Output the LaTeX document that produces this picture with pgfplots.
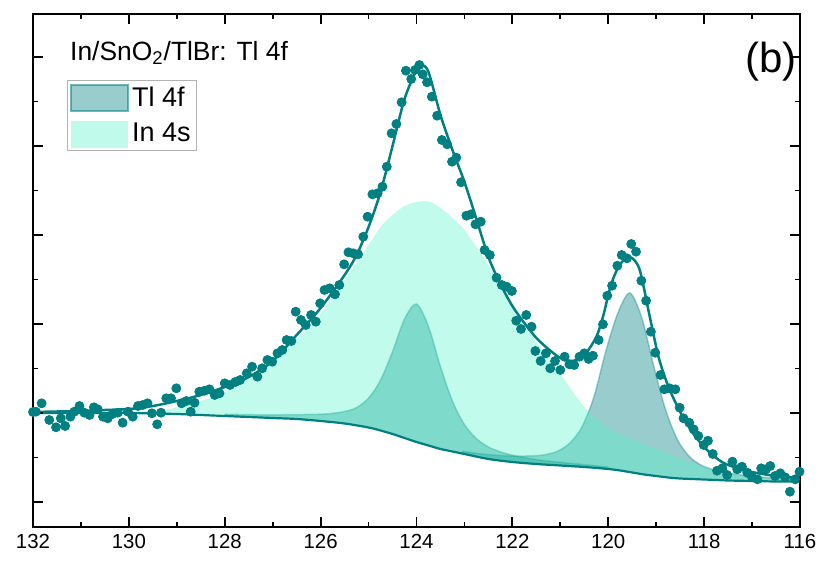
\documentclass[border=0pt]{standalone}
\usepackage{fontspec}
\setmainfont{Liberation Sans}
\usepackage{pgfplots}
\pgfplotsset{compat=1.18}
\definecolor{teal0}{RGB}{0,128,128}
\definecolor{mint}{RGB}{75,243,197}
\begin{document}
\begin{tikzpicture}
\begin{axis}[
  at={(0pt,0pt)}, anchor=south west,
  scale only axis, width=383.5pt, height=256.5pt,
  x dir=reverse, xmin=116, xmax=132, ymin=0, ymax=513,
  xtick={116,118,...,132}, minor xtick={117,119,...,131},
  ytick={25,114,203,292,381,470}, minor ytick={69.5,158.5,247.5,336.5,425.5},
  yticklabels={},
  tick align=inside,
  major tick length=5pt, minor tick length=2.5pt,
  every tick/.style={black, line width=0.9pt},
  axis line style={line width=1pt},
  axis on top,
  /pgf/number format/assume math mode=true,
  tick label style={font=\fontsize{10.2}{12}\selectfont},
  legend style={at={(0.0439,0.871)}, anchor=north west, draw=gray!60, line width=0.5pt,
    inner xsep=1.5pt, inner ysep=1.5pt, row sep=4pt,
    nodes={inner sep=1.5pt}, font=\fontsize{13.5}{15}\selectfont},
  legend cell align=left,
]
% data points
\addplot[only marks, mark=*, mark size=2.25pt, mark options={fill=teal0, draw=teal0}, forget plot] coordinates {
(132.00,115) (131.94,115.3) (131.82,123.7) (131.66,107) (131.52,99.7) (131.42,108.7)
(131.33,101) (131.22,110.3) (131.14,115.3) (131.03,121) (130.93,114.3) (130.82,112)
(130.73,119.7) (130.65,117.7) (130.54,110.3) (130.44,108.7) (130.34,113) (130.23,114.3)
(130.13,104.3) (130.02,115.3) (129.92,110.3) (129.81,121) (129.71,122) (129.61,123.7)
(129.52,113.7) (129.41,102.7) (129.33,114.3) (129.22,128.7) (129.12,128.7) (129.01,138.7)
(128.90,123.7) (128.80,126) (128.71,115.3) (128.63,124.3) (128.53,135.3) (128.42,136.3)
(128.32,137.7) (128.21,132) (128.11,133.7) (128.00,143.7)
(127.89,142) (127.78,145) (127.68,147) (127.54,153.7) (127.43,160.3) (127.32,150.3)
(127.22,158.7) (127.11,167) (127.01,165.3) (126.90,173.7) (126.80,177) (126.71,187)
(126.61,186) (126.52,215.3) (126.41,207) (126.31,202) (126.20,212) (126.10,205.3)
(126.01,223.7) (125.92,237) (125.81,238.7) (125.70,232.7) (125.61,242) (125.51,262.7)
(125.42,274.7) (125.32,273.7) (125.22,272.7) (125.11,290.3) (125.02,310.3) (124.92,332.7)
(124.81,333.7) (124.71,340.3) (124.62,360.3) (124.52,393.7) (124.42,403) (124.31,424.7)
(124.22,456.3) (124.11,448) (124.03,457)
(123.94,462) (123.87,452.7) (123.78,444.7) (123.68,430.3) (123.57,411.3) (123.47,387)
(123.36,382.7) (123.26,365.3) (123.17,369.3) (123.07,344.7) (122.96,311.3) (122.86,312.7)
(122.77,302.7) (122.66,305.3) (122.58,277) (122.47,272) (122.33,249.3) (122.22,242)
(122.12,240.3) (122.01,236) (121.92,206.3) (121.82,198) (121.71,212) (121.60,200.3)
(121.52,176) (121.41,166) (121.30,173.7) (121.21,158.7) (121.11,166) (121.00,157)
(120.91,170.3) (120.81,162.7) (120.71,162) (120.60,170.3) (120.50,173.7) (120.41,168)
(120.32,171.3) (120.20,187) (120.11,202.7) (120.02,231.3) (119.92,241.3) (119.81,261.3)
(119.72,272) (119.61,268.7) (119.52,283) (119.42,275.3) (119.31,246.3) (119.21,226.3)
(119.11,195.3) (119.02,174.3) (118.91,152) (118.83,137.7) (118.72,138.7) (118.60,137.7)
(118.51,119.3) (118.43,108.7) (118.31,104.3) (118.22,97.7) (118.12,91) (118.01,82)
(117.92,86.3) (117.82,73) (117.73,56.3) (117.62,58.7) (117.52,52) (117.41,65.3)
(117.31,57.7) (117.21,60.3) (117.10,54.3) (117.00,49.7) (116.89,47.7) (116.81,58.7)
(116.71,57.7) (116.62,61) (116.52,51) (116.41,53.7) (116.31,49.7) (116.21,35.3)
(116.10,47.7) (116.01,55.3)
};
% Tl 4f component A (peak, then background back)
\addplot[fill=teal0, fill opacity=0.4, draw=none, smooth, forget plot] coordinates {
(128,112.8) (127.5,112.3) (127,112.2) (126.5,112.4) (126,112.8) (125.75,113.7)
(125.5,115.5) (125.25,119.4) (125,128.9) (124.75,146.9) (124.5,175.4) (124.25,208)
(124,223) (123.75,200.5) (123.5,160.4) (123.25,125.9) (123,102.4) (122.75,88.4)
(122.5,80) (122.25,75.2) (122,71.8) (121.5,67.4) (121,64.7) (120.5,62.3) (120,59.8)
(120,58) (120.5,60) (121,61.5) (121.5,63) (122,65) (122.5,68) (123,73) (123.25,75.5)
(123.5,78) (123.75,81.5) (124,85) (124.25,89) (124.5,93) (124.75,96.5) (125,99.5)
(125.5,103.5) (126,106) (126.5,108) (127,109) (127.5,110) (128,111)
} -- cycle;
% Tl 4f component B
\addplot[fill=teal0, fill opacity=0.4, draw=none, smooth, forget plot] coordinates {
(123.05,75.7) (122.55,72.6) (122.05,71.0) (121.55,71.2) (121.3,72.5) (121.05,76)
(120.8,84) (120.55,100) (120.3,130) (120.05,176) (119.8,214) (119.55,234)
(119.3,209.2) (119.05,160.7) (118.8,116.7) (118.55,86.8) (118.3,70.1) (118.05,61.6)
(117.8,57.2) (117.55,54.3) (117.05,51) (116.55,49.1) (116.05,48.2)
(116.05,45.5) (116.5,45.5) (117,46) (117.5,46.5) (118,47.5) (118.5,48.5) (118.75,49.5)
(119,51) (119.25,52.5) (119.5,54.5) (119.75,56.5) (120,58) (120.5,60) (121,61.5)
(121.5,63) (122,65) (122.5,68) (123,73) (123.05,73.4)
} -- cycle;
% Tl edges
\addplot[teal0, opacity=0.35, line width=0.75pt, smooth, forget plot] coordinates {
(128,112.8) (127.5,112.3) (127,112.2) (126.5,112.4) (126,112.8) (125.75,113.7)
(125.5,115.5) (125.25,119.4) (125,128.9) (124.75,146.9) (124.5,175.4) (124.25,208)
(124,223) (123.75,200.5) (123.5,160.4) (123.25,125.9) (123,102.4) (122.75,88.4)
(122.5,80) (122.25,75.2) (122,71.8) (121.5,67.4) (121,64.7) (120.5,62.3) (120,59.8)
};
\addplot[teal0, opacity=0.35, line width=0.75pt, smooth, forget plot] coordinates {
(123.05,75.7) (122.55,72.6) (122.05,71.0) (121.55,71.2) (121.3,72.5) (121.05,76)
(120.8,84) (120.55,100) (120.3,130) (120.05,176) (119.8,214) (119.55,234)
(119.3,209.2) (119.05,160.7) (118.8,116.7) (118.55,86.8) (118.3,70.1) (118.05,61.6)
(117.8,57.2) (117.55,54.3) (117.05,51) (116.55,49.1) (116.05,48.2)
};
% In 4s component
\addplot[fill=mint, fill opacity=0.35, draw=none, smooth, forget plot] coordinates {
(130,114) (129.5,115.5) (129,119.5) (128.5,126) (128,135) (127.5,150) (127,168)
(126.5,188) (126,213) (125.5,247) (125,282) (124.75,300) (124.5,312) (124.25,321)
(124,325) (123.75,325.5) (123.5,319) (123.25,309) (123,297) (122.5,262) (122,220)
(121.5,185) (121,153) (120.5,120) (120,99) (119.5,88) (119,78) (118.5,68.5)
(118,60.5) (117.5,54.5) (117,50) (116.5,47.5) (116,46.5)
(116,45.5) (116.5,45.5) (117,46) (117.5,46.5) (118,47.5) (118.5,48.5) (118.75,49.5)
(119,51) (119.25,52.5) (119.5,54.5) (119.75,56.5) (120,58) (120.5,60) (121,61.5)
(121.5,63) (122,65) (122.5,68) (123,73) (123.25,75.5) (123.5,78) (123.75,81.5)
(124,85) (124.25,89) (124.5,93) (124.75,96.5) (125,99.5) (125.5,103.5) (126,106)
(126.5,108) (127,109) (127.5,110) (128,111) (128.5,112) (129,113) (129.5,113.5) (130,114)
} -- cycle;
% background line
\addplot[teal0, line width=1.1pt, smooth, forget plot] coordinates {
(132,114) (131,114) (130,114) (129.5,113.5) (129,113) (128.5,112) (128,111) (127.5,110)
(127,109) (126.5,108) (126,106) (125.5,103.5) (125,99.5) (124.75,96.5) (124.5,93)
(124.25,89) (124,85) (123.75,81.5) (123.5,78) (123.25,75.5) (123,73) (122.5,68)
(122,65) (121.5,63) (121,61.5) (120.5,60) (120,58) (119.75,56.5) (119.5,54.5)
(119.25,52.5) (119,51) (118.75,49.5) (118.5,48.5) (118,47.5) (117.5,46.5) (117,46)
(116.5,45.5) (116,45.5)
};
% envelope
\addplot[teal0, line width=1.25pt, smooth, forget plot] coordinates {
(132,115) (131.5,115.5) (131,116) (130.5,117) (130,118) (129.5,121) (129,126)
(128.5,132) (128,140) (127.5,150) (127,166) (126.5,192) (126,219) (125.5,252)
(125.25,272) (125,300) (124.75,335) (124.5,381) (124.25,428) (124,457) (123.9,462)
(123.75,455) (123.5,412) (123.25,377) (123,345) (122.75,308) (122.5,270) (122.25,243)
(122,221) (121.75,204) (121.5,189) (121.25,178) (121,169) (120.75,166) (120.5,172)
(120.25,190) (120.1,212) (120,232) (119.9,248) (119.75,263) (119.55,270) (119.35,258)
(119.15,214) (118.95,170) (118.75,141) (118.5,115) (118.25,95) (118,80) (117.75,69)
(117.5,62) (117,55) (116.5,51) (116,49)
};
\addlegendimage{legend image code/.code={\draw[fill=teal0, fill opacity=0.4, draw=teal0, draw opacity=0.55, line width=1pt] (0pt,-6.5pt) rectangle (28.5pt,6.5pt);}}
\addlegendentry{Tl 4f}
\addlegendimage{legend image code/.code={\draw[fill=mint, fill opacity=0.35, draw=none] (0pt,-6.75pt) rectangle (28.5pt,6.75pt);}}
\addlegendentry{In 4s}
\node[anchor=base west, inner sep=0pt, font=\fontsize{13.2}{15}\selectfont] at (rel axis cs:0.048,0.910) {In/SnO\textsubscript{2}/TlBr: Tl 4f};
\node[font=\fontsize{21}{25}\selectfont] at (rel axis cs:0.962,0.908) {(b)};
\end{axis}
\pgfresetboundingbox
\path (-16.5pt,-28pt) rectangle (395pt,263.5pt);
\end{tikzpicture}
\end{document}
